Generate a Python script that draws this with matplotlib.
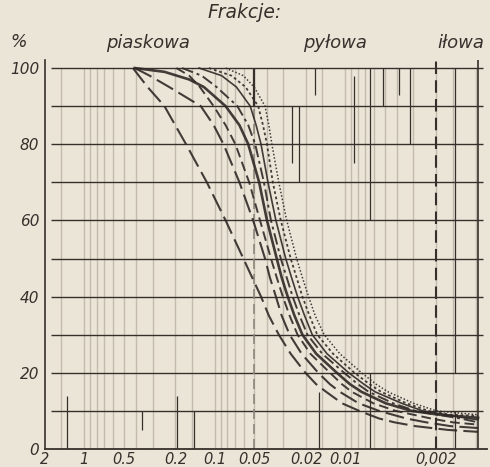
import matplotlib
matplotlib.use("Agg")
import matplotlib.pyplot as plt
import numpy as np

# ---- data (grain diameter in mm, cumulative passing in %) ----
curve_a_d = [0.424, 0.327, 0.243, 0.201, 0.166, 0.115, 0.0826, 0.0604, 0.0517, 0.0442, 0.0385, 0.0323,
             0.0262, 0.0202, 0.0167, 0.0140, 0.0106, 0.0078, 0.0055, 0.0042, 0.0029, 0.00162, 0.00096]
curve_a_p = [100, 95, 90, 85, 80, 70, 60, 50, 45, 40, 35, 30, 25, 20, 17, 15, 12, 10, 8, 7, 6, 5, 4.5]

curve_b_d = [0.41, 0.316, 0.223, 0.128, 0.102, 0.0857, 0.0647, 0.0508, 0.0412, 0.0378, 0.034, 0.0307,
             0.0267, 0.0216, 0.0161, 0.0131, 0.011, 0.0079, 0.0055, 0.0034, 0.0024, 0.00156, 0.00096]
curve_b_p = [100, 98, 95, 90, 85, 80, 70, 60, 50, 45, 40, 35, 30, 25, 20, 17, 15, 12, 10, 8, 7, 6, 5.5]

curve_c_d = [0.197, 0.157, 0.130, 0.102, 0.0826, 0.0695, 0.0545, 0.045, 0.0371, 0.0335, 0.0301, 0.0267,
             0.0232, 0.0185, 0.0131, 0.0106, 0.0089, 0.0061, 0.0041, 0.0022, 0.0015, 0.00096]
curve_c_p = [100, 98, 95, 90, 85, 80, 70, 60, 50, 45, 40, 35, 30, 25, 20, 17, 15, 12, 10, 8, 7, 6.4]

curve_d_d = [0.41, 0.243, 0.157, 0.121, 0.0826, 0.0647, 0.0554, 0.0457, 0.0398, 0.0335, 0.0307, 0.0276,
             0.0245, 0.0213, 0.0167, 0.0116, 0.0092, 0.0075, 0.0049, 0.0031, 0.0019, 0.00096]
curve_d_p = [100, 99, 97, 95, 90, 85, 80, 70, 60, 50, 45, 40, 35, 30, 25, 20, 17, 15, 12, 10, 9, 8.2]

curve_e_d = [0.178, 0.126, 0.0967, 0.0671, 0.0554, 0.049, 0.042, 0.0371, 0.0312, 0.0281, 0.0253, 0.0224,
             0.0195, 0.015, 0.0102, 0.008, 0.0066, 0.0043, 0.0029, 0.00196, 0.00131, 0.00096]
curve_e_p = [100, 98, 95, 90, 85, 80, 70, 60, 50, 45, 40, 35, 30, 25, 20, 17, 15, 12, 10, 9, 8, 7.0]

curve_f_d = [0.132, 0.0886, 0.0682, 0.0535, 0.0482, 0.0442, 0.0391, 0.034, 0.0286, 0.0258, 0.0232, 0.0205,
             0.0179, 0.0138, 0.0094, 0.0072, 0.0059, 0.0037, 0.00255, 0.0017, 0.00114, 0.00096]
curve_f_p = [100, 98, 95, 90, 85, 80, 70, 60, 50, 45, 40, 35, 30, 25, 20, 17, 15, 12, 10, 9, 8, 7.7]

curve_g_d = [0.111, 0.0745, 0.058, 0.0465, 0.0427, 0.0398, 0.0359, 0.0312, 0.0262, 0.0236, 0.0213, 0.0188,
             0.0164, 0.0124, 0.0085, 0.0065, 0.0053, 0.0034, 0.0023, 0.00156, 0.00096]
curve_g_p = [100, 98, 95, 90, 85, 80, 70, 60, 50, 45, 40, 35, 30, 25, 20, 17, 15, 12, 10, 9, 8.7]

curve_h_d = [0.0826, 0.0604, 0.0499, 0.0412, 0.0385, 0.0365, 0.0323, 0.0281, 0.0236, 0.0213, 0.0191, 0.017,
             0.0145, 0.011, 0.0075, 0.0058, 0.0047, 0.003, 0.002, 0.00131, 0.00096]
curve_h_p = [100, 98, 95, 90, 85, 80, 70, 60, 50, 45, 40, 35, 30, 25, 20, 17, 15, 12, 10, 9.4, 9.0]

x_tick_values = [2, 1, 0.5, 0.2, 0.1, 0.05, 0.02, 0.01, 0.002]
x_tick_labels = ["2", "1", "0.5", "0.2", "0.1", "0.05", "0.02", "0.01", "0,002"]
y_tick_values = [0, 20, 40, 60, 80, 100]
y_tick_labels = ["0", "20", "40", "60", "80", "100"]

fraction_names = ["piaskowa", "pyłowa", "iłowa"]
fraction_bounds = [0.05, 0.002]

# ---- styling ----
BG = "#ebe5d8"
INK = "#36302c"
LIGHT = "#c2bbae"

fig = plt.figure(figsize=(4.9, 4.67), dpi=100, facecolor=BG)
ax = fig.add_axes([45/490, 18/467, 442/490, (449-52.8)/467])
ax.set_facecolor(BG)
ax.set_xscale("log")
X_LEFT, X_RIGHT, X_FRAME = 1.8, 0.00082, 0.00096
ax.set_xlim(X_LEFT, X_RIGHT)
ax.set_ylim(0, 104)

# light log grid
for k in range(-4, 1):
    for n in range(1, 10):
        v = n * 10.0 ** k
        if X_FRAME < v < X_LEFT:
            ax.vlines(v, 0, 100, color=LIGHT, lw=1.0, zorder=1)
for v in [1.5, 0.15, 0.015, 0.0015]:
    ax.vlines(v, 0, 100, color=LIGHT, lw=1.0, zorder=1)

# darker partial grid segments (scan look)
dark_segments = [(1.36, 0, 14), (0.363, 5, 10), (0.194, 0, 14), (0.144, 0, 10),
                 (0.0258, 75, 90), (0.0226, 70, 90), (0.0171, 93, 100),
                 (0.0085, 75, 98), (0.0065, 60, 100), (0.0051, 90, 100),
                 (0.0039, 93, 100), (0.0032, 80, 100), (0.00145, 20, 100),
                 (0.0065, 0, 20), (0.00145, 0, 10), (0.0159, 0, 15)]
for v, y0, y1 in dark_segments:
    ax.vlines(v, y0, y1, color=INK, lw=0.9, zorder=2)

# horizontal grid
ax.hlines(np.arange(10, 101, 10), X_LEFT, 0.00088, color=INK, lw=1.0, zorder=2)
# right frame
ax.vlines(X_FRAME, 0, 102, color=INK, lw=1.2, zorder=2)
# fraction boundaries
ax.vlines(fraction_bounds[0], 90, 100, color=INK, lw=1.6, zorder=2)
ax.vlines(fraction_bounds[0], 0, 90, color="#8d867b", lw=1.2, linestyles=(0, (6, 3)), zorder=2)
ax.vlines(fraction_bounds[1], 0, 102, color=INK, lw=1.5, linestyles=(0, (6, 3)), zorder=2)

# curves
curves = [
    (curve_a_d, curve_a_p, (0, (9, 3)), 1.5),
    (curve_b_d, curve_b_p, (0, (9, 3)), 1.5),
    (curve_c_d, curve_c_p, (0, (5, 2.5)), 1.4),
    (curve_d_d, curve_d_p, "-", 1.9),
    (curve_e_d, curve_e_p, (0, (6, 2, 1.5, 2)), 1.4),
    (curve_f_d, curve_f_p, "-", 1.2),
    (curve_g_d, curve_g_p, (0, (1.5, 1.5)), 1.3),
    (curve_h_d, curve_h_p, (0, (1, 1.3)), 1.1),
]
for d, p, ls, lw in curves:
    ax.plot(d, p, color="#2e2926", ls=ls, lw=lw, zorder=4, alpha=0.9,
            solid_joinstyle="round", dash_joinstyle="round")

# axes style
for s in ["top", "right"]:
    ax.spines[s].set_visible(False)
ax.spines["left"].set_color(INK)
ax.spines["bottom"].set_color(INK)
ax.spines["left"].set_linewidth(1.2)
ax.spines["bottom"].set_linewidth(1.3)
ax.spines["left"].set_bounds(0, 102)

ax.set_xticks(x_tick_values)
ax.set_xticklabels(x_tick_labels, fontstyle="italic", fontsize=10.5, color=INK)
ax.set_xticks([], minor=True)
ax.set_yticks(y_tick_values)
ax.set_yticklabels(y_tick_labels, fontstyle="italic", fontsize=11, color=INK)
ax.tick_params(axis="both", length=0)
ax.tick_params(axis="x", pad=2)
ax.tick_params(axis="y", pad=4)

# titles
fig.text(245/490, 1 - 13/467, "Frakcje:", fontstyle="italic", fontsize=13.5,
         ha="center", va="center", color=INK)
fig.text(19/490, 1 - 42/467, "%", fontstyle="italic", fontsize=12.5,
         ha="center", va="center", color=INK)
for name, xc in zip(fraction_names, [148, 335, 461]):
    fig.text(xc/490, 1 - 43/467, name, fontstyle="italic", fontsize=13,
             ha="center", va="center", color=INK)

fig.savefig("out.png", dpi=100, facecolor=BG)
